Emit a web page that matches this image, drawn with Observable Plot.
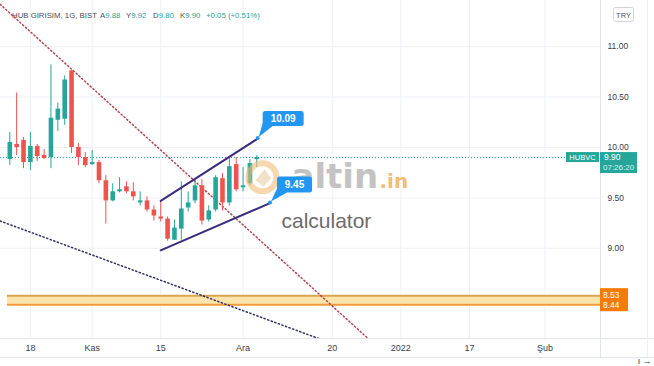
<!DOCTYPE html>
<html><head><meta charset="utf-8">
<script src="https://cdn.jsdelivr.net/npm/d3@7"></script>
<script src="https://cdn.jsdelivr.net/npm/@observablehq/plot@0.6"></script>
<style>html,body{margin:0;padding:0;background:#fff;}#chart{width:654px;height:366px;overflow:hidden;}</style>
</head><body><div id="chart"></div>
<script>
// ---- data ----
const dates = ["2021-10-13","2021-10-14","2021-10-15","2021-10-18","2021-10-19","2021-10-20","2021-10-21","2021-10-22","2021-10-25","2021-10-26","2021-10-27","2021-10-28","2021-11-01","2021-11-02","2021-11-03","2021-11-04","2021-11-05","2021-11-08","2021-11-09","2021-11-10","2021-11-11","2021-11-12","2021-11-15","2021-11-16","2021-11-17","2021-11-18","2021-11-19","2021-11-22","2021-11-23","2021-11-24","2021-11-25","2021-11-26","2021-11-29","2021-11-30","2021-12-01","2021-12-02","2021-12-03"];
const open  = [9.88,10.03,10.07,9.85,10.01,9.92,9.90,10.27,10.28,10.76,10.00,9.90,9.83,9.85,9.67,9.47,9.56,9.61,9.56,9.45,9.47,9.38,9.31,9.29,9.08,9.19,9.40,9.47,9.62,9.28,9.38,9.69,9.45,9.83,9.60,9.64,9.88];
const high  = [10.15,10.54,10.10,10.15,10.03,9.98,10.82,10.44,10.71,10.76,10.04,9.95,9.97,9.87,9.72,9.64,9.70,9.66,9.65,9.56,9.51,9.42,9.47,9.31,9.28,9.66,9.56,9.67,9.68,9.42,9.72,9.74,9.89,9.90,9.80,9.88,9.92];
const low   = [9.82,9.92,9.79,9.77,9.86,9.88,9.79,10.16,10.22,9.94,9.82,9.80,9.82,9.64,9.24,9.46,9.55,9.54,9.47,9.42,9.36,9.27,9.26,9.07,9.08,9.08,9.36,9.44,9.23,9.26,9.36,9.37,9.42,9.56,9.56,9.62,9.80];
const close = [10.05,10.00,9.85,10.01,9.91,9.89,10.29,10.38,10.67,10.00,9.90,9.82,9.85,9.67,9.47,9.56,9.58,9.56,9.51,9.47,9.38,9.32,9.29,9.09,9.20,9.39,9.45,9.62,9.27,9.37,9.70,9.45,9.81,9.58,9.62,9.84,9.90];

const xTickIndex  = [3, 12, 22, 34, 47, 57, 67, 78];
const xTickLabels = ["18", "Kas", "15", "Ara", "20", "2022", "17", "Şub"];
const yTicks = [9, 9.5, 10, 10.5, 11];

const lastPrice = 9.90;
const symbol = "HUBVC";
const countdown = "07:26:20";
const zoneTop = 8.53, zoneBottom = 8.44, zoneStartIdx = -0.35;

const redTrendIdx = [-1.4, 52.3],  redTrendVal = [11.42, 8.10];
const navyTrendIdx = [-1.4, 45.0], navyTrendVal = [9.27, 8.105];
const upperChannelIdx = [22, 36.2], upperChannelVal = [9.47, 10.09];
const lowerChannelIdx = [22, 38.0], lowerChannelVal = [8.98, 9.45];

const headerName = "HUB GIRISIM, 1G, BIST";
const headerKeys = ["A", "Y", "D", "K"];
const headerVals = ["9.88", "9.92", "9.80", "9.90"];
const headerChange = "+0.05 (+0.51%)";

// ---- derived tables ----
const candles = dates.map((d, i) => ({i, date: d, o: open[i], h: high[i], l: low[i], c: close[i]}));
const upC = candles.filter(d => d.c >= d.o);
const dnC = candles.filter(d => d.c < d.o);
const toPts = (a, b) => a.map((v, k) => ({i: v, v: b[k]}));

const UP = "#26a69a", DN = "#ef5350", BLUE = "#2196f3", GRID = "#eef0f4";
const xMin = -1.356, xMax = 86.1, yMin = 8.105, yMax = 11.458;
const labelMap = new Map(xTickIndex.map((d, k) => [d, xTickLabels[k]]));

const chart = Plot.plot({
  width: 654, height: 366,
  marginLeft: 0, marginRight: 54, marginTop: 0, marginBottom: 28,
  x: {domain: [xMin, xMax], axis: null},
  y: {domain: [yMin, yMax], axis: null},
  style: {fontFamily: "'Liberation Sans', Arial, sans-serif", fontSize: "9px", background: "#fff", overflow: "visible"},
  marks: [
    Plot.gridX(xTickIndex, {stroke: GRID, strokeOpacity: 1}),
    Plot.gridY(yTicks, {stroke: GRID, strokeOpacity: 1}),
    Plot.axisX(xTickIndex, {anchor: "bottom", tickSize: 0, tickPadding: 6, tickFormat: d => labelMap.get(d), fill: "#3a3e4a", fontSize: 9}),
    Plot.axisY(yTicks, {anchor: "right", tickSize: 0, tickPadding: 7, tickFormat: d => d.toFixed(2), fill: "#3a3e4a", fontSize: 8.5}),
    // support zone
    Plot.rect([{}], {x1: zoneStartIdx, x2: xMax, y1: zoneBottom, y2: zoneTop, fill: "#fde4ad"}),
    Plot.ruleY([zoneTop], {x1: zoneStartIdx, x2: xMax, stroke: "#d7a64e", strokeWidth: 2}),
    Plot.ruleY([zoneBottom], {x1: zoneStartIdx, x2: xMax, stroke: "#f29a3a", strokeWidth: 2}),
    // dotted trend lines
    Plot.line(toPts(redTrendIdx, redTrendVal), {x: "i", y: "v", stroke: "#b4424d", strokeWidth: 1.5, strokeDasharray: "1.2 2.6", clip: true}),
    Plot.line(toPts(navyTrendIdx, navyTrendVal), {x: "i", y: "v", stroke: "#2e2f63", strokeWidth: 1.5, strokeDasharray: "1.2 2.6", clip: true}),
    // last price line
    Plot.ruleY([lastPrice], {stroke: UP, strokeWidth: 1, strokeDasharray: "1 2"}),
    // candles
    Plot.ruleX(upC, {x: "i", y1: "l", y2: "h", stroke: UP, strokeWidth: 1}),
    Plot.ruleX(dnC, {x: "i", y1: "l", y2: "h", stroke: DN, strokeWidth: 1}),
    Plot.ruleX(upC, {x: "i", y1: "o", y2: "c", stroke: UP, strokeWidth: 4.6}),
    Plot.ruleX(dnC, {x: "i", y1: "o", y2: "c", stroke: DN, strokeWidth: 4.6}),
    // channel
    Plot.line(toPts(upperChannelIdx, upperChannelVal), {x: "i", y: "v", stroke: "#3b2c7e", strokeWidth: 2}),
    Plot.line(toPts(lowerChannelIdx, lowerChannelVal), {x: "i", y: "v", stroke: "#3b2c7e", strokeWidth: 2})
  ]
});
document.getElementById("chart").appendChild(chart);

// ---- annotations positioned with Plot's scales ----
const xs = chart.scale("x"), ys = chart.scale("y");
const X = v => xs.apply(v), Y = v => ys.apply(v);
const svg = d3.select(chart);
const fr = X(xMax), fb = Y(yMin);
const g = svg.append("g").attr("font-family", "'Liberation Sans', Arial, sans-serif").attr("text-anchor", "start");

// frame separators
g.append("line").attr("x1", 0).attr("x2", 654).attr("y1", fb + 0.5).attr("y2", fb + 0.5).attr("stroke", "#e0e3eb");
g.append("line").attr("x1", 0).attr("x2", 654).attr("y1", fb + 19.5).attr("y2", fb + 19.5).attr("stroke", "#e0e3eb");
g.append("line").attr("x1", fr + 0.5).attr("x2", fr + 0.5).attr("y1", 0).attr("y2", fb + 19).attr("stroke", "#e0e3eb");
g.append("line").attr("x1", fr + 47.5).attr("x2", fr + 47.5).attr("y1", 0).attr("y2", fb + 19).attr("stroke", "#eef0f4");

// watermark
const wm = g.append("g");
const lx = X(36.9), ly = Y(9.7);
wm.append("circle").attr("cx", lx).attr("cy", ly).attr("r", 14).attr("fill", "none").attr("stroke", "#f0bd78").attr("stroke-width", 6).attr("opacity", 0.6);
wm.append("path").attr("d", `M${lx-7},${ly+3} L${lx+2},${ly-8} L${lx+9},${ly+1} L${lx+1},${ly+9} Z`).attr("fill", "#e9d4b0").attr("opacity", 0.7);
wm.append("text").attr("x", lx + 29).attr("y", ly + 11).attr("font-family", "'DejaVu Sans', sans-serif").attr("font-weight", "bold").attr("font-size", 34).attr("fill", "#bdbdbd").attr("opacity", 0.9).text("altin");
wm.append("text").attr("x", lx + 117).attr("y", ly + 11).attr("font-family", "'DejaVu Sans', sans-serif").attr("font-weight", "bold").attr("font-size", 20).attr("fill", "#f2b46c").attr("opacity", 0.9).text(".in");
wm.append("text").attr("x", lx + 19).attr("y", ly + 51).attr("font-size", 21).attr("fill", "#6b6b6b").text("calculator");

// callouts
function callout(ix, v, w, h, offX, offY) {
  const ex = X(ix), ey = Y(v);
  const bx = ex + offX, bb = ey - offY, by = bb - h;
  g.append("path").attr("d", `M${bx + 1},${bb - 6} L${bx + 10},${bb} L${ex + 1},${ey - 1} Z`).attr("fill", BLUE);
  g.append("rect").attr("x", bx).attr("y", by).attr("width", w).attr("height", h).attr("rx", 2.5).attr("fill", BLUE);
  g.append("text").attr("x", bx + w / 2).attr("y", by + h / 2 + 3.5).attr("text-anchor", "middle").attr("font-weight", "bold").attr("font-size", 10).attr("fill", "#fff").text(v.toFixed(2));
  g.append("circle").attr("cx", ex).attr("cy", ey).attr("r", 2).attr("fill", BLUE);
}
callout(upperChannelIdx[1], upperChannelVal[1], 41, 15, 5, 12);
callout(lowerChannelIdx[1], lowerChannelVal[1], 35, 16, 7, 10);

// last price tags
const py = Y(lastPrice);
g.append("rect").attr("x", fr - 34).attr("y", py - 5).attr("width", 33).attr("height", 10).attr("fill", UP);
g.append("text").attr("x", fr - 17.5).attr("y", py + 3).attr("text-anchor", "middle").attr("font-size", 7.5).attr("fill", "#fff").text(symbol);
g.append("rect").attr("x", fr).attr("y", py - 5).attr("width", 37).attr("height", 21).attr("fill", UP);
g.append("text").attr("x", fr + 4).attr("y", py + 3).attr("font-size", 8.5).attr("fill", "#fff").text(lastPrice.toFixed(2));
g.append("text").attr("x", fr + 3).attr("y", py + 13).attr("font-size", 8).attr("fill", "#d9f1ee").text(countdown);

// zone tag
const zt = Y(zoneTop), zb = Y(zoneBottom);
g.append("rect").attr("x", fr).attr("y", zt - 7).attr("width", 28).attr("height", zb - zt + 14).attr("fill", "#f57c00");
g.append("text").attr("x", fr + 3).attr("y", zt + 3).attr("font-size", 8.5).attr("fill", "#fff").text(zoneTop.toFixed(2));
g.append("text").attr("x", fr + 3).attr("y", zb + 4).attr("font-size", 8.5).attr("fill", "#fff").text(zoneBottom.toFixed(2));

// currency box
g.append("rect").attr("x", fr + 13.5).attr("y", 7.5).attr("width", 20).attr("height", 14).attr("rx", 2).attr("fill", "#fff").attr("stroke", "#d1d4dc");
g.append("text").attr("x", fr + 23.5).attr("y", 17.5).attr("text-anchor", "middle").attr("font-size", 7.5).attr("fill", "#555").text("TRY");

// header
const hd = g.append("text").attr("y", 18).attr("font-size", 7.8);
hd.append("tspan").attr("x", 12).attr("fill", "#4a4e5a").text(headerName);
const hx = [100, 126, 153, 180];
headerKeys.forEach((k, j) => {
  hd.append("tspan").attr("x", hx[j]).attr("fill", "#4a4e5a").text(k);
  hd.append("tspan").attr("fill", UP).text(headerVals[j]);
});
hd.append("tspan").attr("x", 206).attr("fill", UP).text(headerChange);
</script>
</body></html>
